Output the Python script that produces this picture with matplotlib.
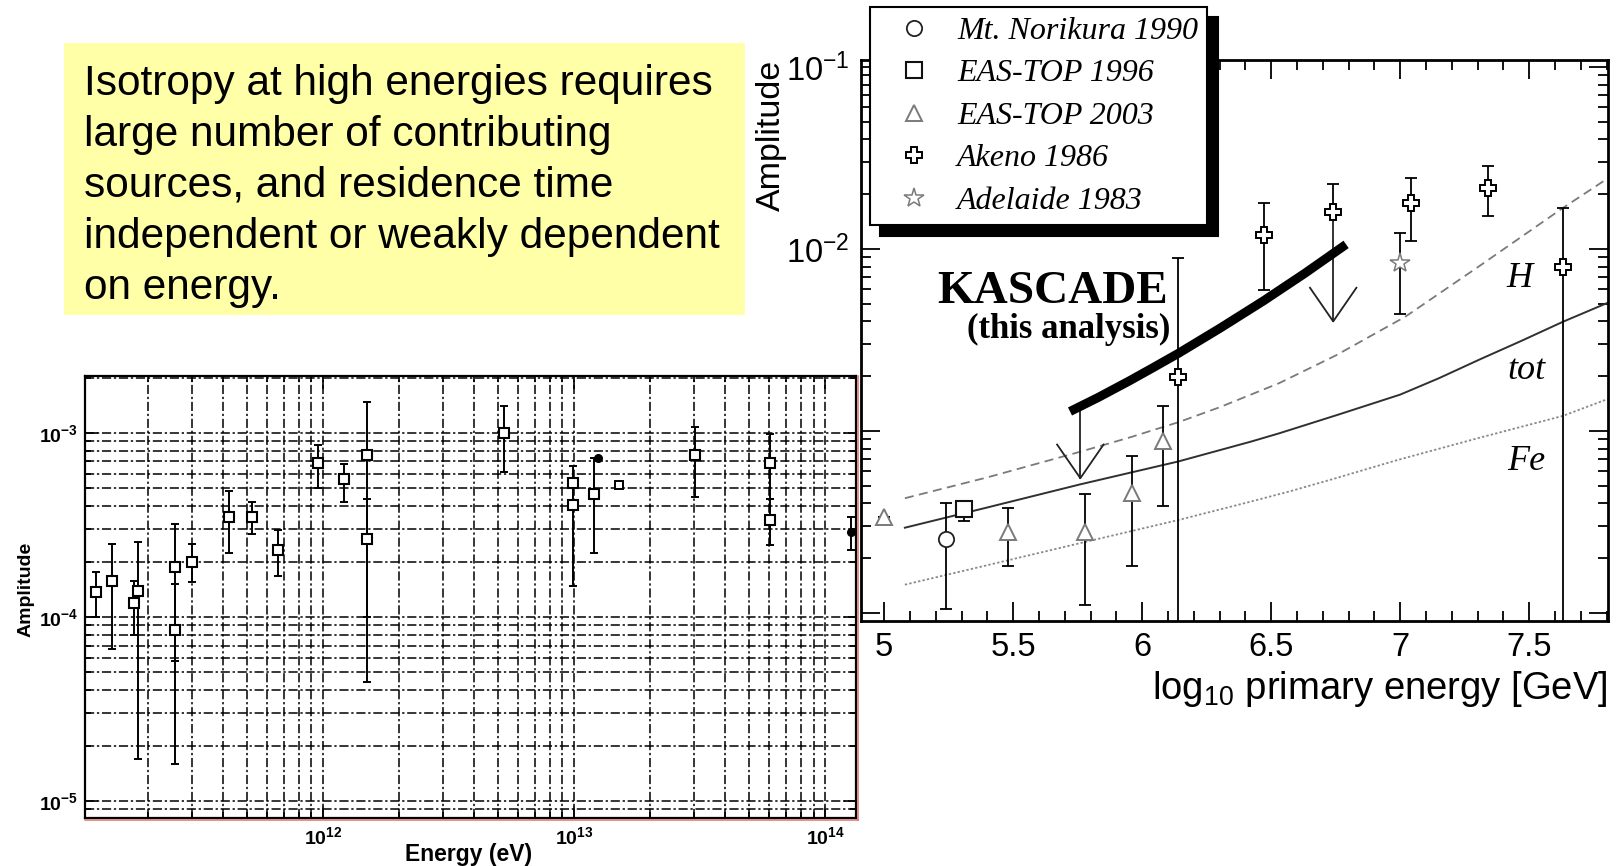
import numpy as np
import matplotlib
matplotlib.use("Agg")
import matplotlib.pyplot as plt
from matplotlib.patches import Rectangle
from matplotlib.font_manager import FontProperties
from matplotlib.ticker import (LogLocator, FixedLocator, MultipleLocator,
                               FuncFormatter, NullFormatter)

plt.rcParams['font.family'] = ['Liberation Sans', 'DejaVu Sans']
plt.rcParams['mathtext.fontset'] = 'custom'
plt.rcParams['mathtext.rm'] = 'Liberation Sans'
plt.rcParams['mathtext.it'] = 'Liberation Sans:italic'
plt.rcParams['mathtext.bf'] = 'Liberation Sans:bold'

# ---------------- left panel: amplitude vs energy (eV) ----------------
left_energy = np.array([1.25e11, 1.45e11, 1.77e11, 1.83e11, 2.57e11, 2.57e11, 3.01e11,
                        4.24e11, 5.23e11, 6.63e11, 9.55e11, 1.21e12, 1.50e12, 1.50e12,
                        5.27e12, 9.89e12, 9.89e12, 1.20e13, 3.03e13, 6.04e13, 6.04e13])
left_amp = np.array([1.37e-4, 1.57e-4, 1.19e-4, 1.38e-4, 1.88e-4, 8.5e-5, 2.0e-4,
                     3.51e-4, 3.51e-4, 2.3e-4, 6.9e-4, 5.62e-4, 7.6e-4, 2.65e-4,
                     1.0e-3, 5.37e-4, 4.05e-4, 4.66e-4, 7.56e-4, 6.84e-4, 3.37e-4])
left_low = np.array([1.0e-4, 6.7e-5, 8.0e-5, 1.7e-5, 5.8e-5, 1.58e-5, 1.55e-4,
                     2.22e-4, 2.82e-4, 1.68e-4, 5.0e-4, 4.2e-4, 1.0e-4, 4.45e-5,
                     6.1e-4, 4.2e-4, 1.48e-4, 2.22e-4, 4.5e-4, 4.38e-4, 2.46e-4])
left_high = np.array([1.75e-4, 2.5e-4, 1.57e-4, 2.55e-4, 3.19e-4, 1.51e-4, 2.5e-4,
                      4.84e-4, 4.2e-4, 2.97e-4, 8.6e-4, 6.8e-4, 1.48e-3, 4.37e-4,
                      1.40e-3, 6.6e-4, 5.0e-4, 7.3e-4, 1.08e-3, 9.9e-4, 4.38e-4])
left_small_energy = np.array([1.51e13])
left_small_amp = np.array([5.2e-4])
left_dot_energy = np.array([1.25e13, 1.27e14])
left_dot_amp = np.array([7.34e-4, 2.9e-4])
left_dot_low = np.array([7.34e-4, 2.31e-4])
left_dot_high = np.array([7.34e-4, 3.5e-4])

# ---------------- right panel: log10 primary energy [GeV] ----------------
norikura_x = np.array([5.24]);  norikura_y = np.array([2.54e-4])
norikura_lo = np.array([1.05e-4]); norikura_hi = np.array([4.04e-4])

eastop96_x = np.array([5.31]);  eastop96_y = np.array([3.72e-4])
eastop96_lo = np.array([3.2e-4]); eastop96_hi = np.array([4.1e-4])

eastop03_x = np.array([5.0, 5.48, 5.78, 5.96, 6.08])
eastop03_y = np.array([3.36e-4, 2.77e-4, 2.77e-4, 4.55e-4, 8.85e-4])
eastop03_lo = np.array([3.36e-4, 1.81e-4, 1.1e-4, 1.81e-4, 3.87e-4])
eastop03_hi = np.array([3.36e-4, 3.76e-4, 4.49e-4, 7.31e-4, 1.38e-3])

akeno_x = np.array([6.14, 6.47, 6.74, 7.04, 7.34, 7.63])
akeno_y = np.array([1.99e-3, 1.2e-2, 1.59e-2, 1.79e-2, 2.17e-2, 8.0e-3])
akeno_lo = np.array([1e-5, 5.95e-3, 1.59e-2, 1.11e-2, 1.51e-2, 1e-5])
akeno_hi = np.array([8.96e-3, 1.78e-2, 2.29e-2, 2.47e-2, 2.87e-2, 1.69e-2])

adelaide_x = np.array([7.0]);  adelaide_y = np.array([8.34e-3])
adelaide_lo = np.array([4.37e-3]); adelaide_hi = np.array([1.22e-2])

kascade_x = np.array([5.72, 5.83, 5.95, 6.04, 6.14, 6.30, 6.47, 6.63, 6.79])
kascade_y = np.array([1.28e-3, 1.53e-3, 1.885e-3, 2.22e-3, 2.67e-3, 3.66e-3, 5.19e-3,
                      7.35e-3, 1.06e-2])
limit_x = np.array([5.76, 6.74])
limit_top = np.array([1.32e-3, 1.42e-2])
limit_tip = np.array([5.5e-4, 4.0e-3])

model_H_x = np.array([5.08, 5.4, 5.76, 5.95, 6.14, 6.3, 6.53, 6.75, 7.02, 7.3, 7.63, 7.805])
model_H_y = np.array([4.27e-4, 5.56e-4, 7.69e-4, 9.2e-4, 1.117e-3, 1.35e-3, 1.83e-3,
                      2.6e-3, 4.25e-3, 7.94e-3, 1.68e-2, 2.45e-2])
model_tot_x = np.array([5.08, 5.4, 5.76, 6.14, 6.42, 6.53, 6.76, 7.0, 7.15, 7.31, 7.47,
                        7.63, 7.805])
model_tot_y = np.array([2.94e-4, 3.8e-4, 5.09e-4, 6.8e-4, 8.73e-4, 9.7e-4, 1.23e-3,
                        1.585e-3, 1.95e-3, 2.48e-3, 3.13e-3, 3.98e-3, 5.07e-3])
model_Fe_x = np.array([5.08, 5.4, 5.76, 6.14, 6.42, 6.57, 6.75, 6.99, 7.31, 7.63, 7.805])
model_Fe_y = np.array([1.43e-4, 1.83e-4, 2.42e-4, 3.24e-4, 4.09e-4, 4.65e-4, 5.5e-4,
                       6.93e-4, 9.2e-4, 1.21e-3, 1.5e-3])

legend_labels = ['Mt. Norikura 1990', 'EAS-TOP 1996', 'EAS-TOP 2003',
                 'Akeno 1986', 'Adelaide 1983']
note_text = ("Isotropy at high energies requires\n"
             "large number of contributing\n"
             "sources, and residence time\n"
             "independent or weakly dependent\n"
             "on energy.")

W, H = 1618, 866
fig = plt.figure(figsize=(W / 100, H / 100), dpi=100)
fig.patch.set_facecolor('white')


def px_rect(x0, y0, x1, y1):
    """pixel box (origin top-left) -> figure-fraction [left, bottom, width, height]"""
    return [x0 / W, 1 - y1 / H, (x1 - x0) / W, (y1 - y0) / H]


# ======================= right panel =======================
ax_r = fig.add_axes(px_rect(861, 60, 1608, 621), zorder=0)
ax_r.set_yscale('log')
ax_r.set_xlim(4.91, 7.805)
ax_r.set_ylim(9.03e-5, 0.1093)

ebar_kw = dict(fmt='none', ecolor='black', elinewidth=1.3, capsize=4, capthick=1.3, zorder=3)


def err(y, lo, hi):
    return [y - lo, hi - y]


ax_r.errorbar(norikura_x, norikura_y, yerr=err(norikura_y, norikura_lo, norikura_hi), **ebar_kw)
ax_r.errorbar(eastop96_x, eastop96_y, yerr=err(eastop96_y, eastop96_lo, eastop96_hi), **ebar_kw)
ax_r.errorbar(eastop03_x, eastop03_y, yerr=err(eastop03_y, eastop03_lo, eastop03_hi), **ebar_kw)
ax_r.errorbar(akeno_x, akeno_y, yerr=err(akeno_y, akeno_lo, akeno_hi), **ebar_kw)
ax_r.errorbar(adelaide_x, adelaide_y, yerr=err(adelaide_y, adelaide_lo, adelaide_hi), **ebar_kw)

ax_r.plot(model_H_x, model_H_y, color='#7a7a7a', lw=1.3, ls=(0, (5, 3)), zorder=2)
ax_r.plot(model_tot_x, model_tot_y, color='#303030', lw=1.4, zorder=2)
ax_r.plot(model_Fe_x, model_Fe_y, color='#8a8a8a', lw=1.3, ls=(0, (1.3, 1.2)), zorder=2)

ax_r.plot(kascade_x, kascade_y, color='black', lw=6.5, solid_capstyle='butt',
          solid_joinstyle='round', zorder=5)
arm_dx, arm_dlog = 0.09, 0.185
for xv, top, tip in zip(limit_x, limit_top, limit_tip):
    ax_r.plot([xv, xv], [top, tip], color='#222222', lw=1.3, zorder=4)
    ax_r.plot([xv - arm_dx, xv, xv + arm_dx],
              [tip * 10 ** arm_dlog, tip, tip * 10 ** arm_dlog],
              color='#222222', lw=1.3, zorder=4)

mk = dict(ls='none', mfc='white', zorder=6)
h_nor, = ax_r.plot(norikura_x, norikura_y, marker='o', ms=11, mec='#222222', mew=1.3, **mk)
h_e96, = ax_r.plot(eastop96_x, eastop96_y, marker='s', ms=11, mec='#111111', mew=1.5, **mk)
h_e03, = ax_r.plot(eastop03_x, eastop03_y, marker='^', ms=12, mec='#7a7a7a', mew=1.4, **mk)
h_ak, = ax_r.plot(akeno_x, akeno_y, marker='P', ms=12, mec='black', mew=1.4, **mk)
h_ad, = ax_r.plot(adelaide_x, adelaide_y, marker='*', ms=15, mec='#7a7a7a', mew=1.1, **mk)

ax_r.xaxis.set_major_locator(FixedLocator([5, 5.5, 6, 6.5, 7, 7.5]))
ax_r.xaxis.set_minor_locator(MultipleLocator(0.1))
ax_r.xaxis.set_major_formatter(FuncFormatter(lambda v, p: f'{v:g}'))
ax_r.yaxis.set_major_locator(LogLocator(base=10, numticks=12))
ax_r.yaxis.set_minor_locator(LogLocator(base=10, subs=np.arange(2, 10), numticks=12))
ax_r.yaxis.set_minor_formatter(NullFormatter())
ax_r.tick_params(which='both', direction='in', top=True, right=True, width=1.3, colors='black')
ax_r.tick_params(which='major', length=14, labelsize=23.5, pad=8)
ax_r.tick_params(which='minor', length=7.5)
for s in ax_r.spines.values():
    s.set_linewidth(2.0)

ax_r.set_ylabel('Amplitude', fontsize=24.5, loc='top')
ax_r.yaxis.set_label_coords(-0.099, 1.0)
ax_r.set_xlabel(r'log$_{\mathdefault{10}}$ primary energy [GeV]', fontsize=27.5,
                loc='right', labelpad=4)

serif_b = dict(family=['Liberation Serif', 'DejaVu Serif'], weight='bold')
serif_i = dict(family=['Liberation Serif', 'DejaVu Serif'], style='italic')
ax_r.text(0.411, 0.5663, 'KASCADE', transform=ax_r.transAxes, ha='right', va='baseline',
          fontsize=34, **serif_b)
ax_r.text(0.4146, 0.5036, '(this analysis)', transform=ax_r.transAxes, ha='right', va='baseline',
          fontsize=25, **serif_b)
ax_r.text(0.882, 0.5948, 'H', transform=ax_r.transAxes, ha='center', va='baseline', fontsize=26, **serif_i)
ax_r.text(0.891, 0.4308, 'tot', transform=ax_r.transAxes, ha='center', va='baseline', fontsize=26, **serif_i)
ax_r.text(0.891, 0.2692, 'Fe', transform=ax_r.transAxes, ha='center', va='baseline', fontsize=26, **serif_i)

leg = ax_r.legend([h_nor, h_e96, h_e03, h_ak, h_ad], legend_labels,
                  loc='upper left', bbox_to_anchor=(870 / W, 1 - 7 / H),
                  bbox_transform=fig.transFigure, borderaxespad=0,
                  prop=FontProperties(family=['Liberation Serif'], style='italic', size=23),
                  frameon=True, fancybox=False, edgecolor='black', framealpha=1,
                  borderpad=0.3, handlelength=2.14, handletextpad=0.28,
                  labelspacing=0.41, numpoints=1,
                  shadow={'ox': 7.5, 'oy': -7.5, 'color': 'black', 'alpha': 1})
leg.get_frame().set_linewidth(1.5)

# white backing for the left panel
fig.add_artist(Rectangle((0, 0), 858 / W, 1 - 330 / H, transform=fig.transFigure,
                         facecolor='white', edgecolor='none', zorder=1))

# ======================= left panel =======================
ax_l = fig.add_axes(px_rect(85, 376, 856, 818), zorder=2)
ax_l.set_xscale('log')
ax_l.set_yscale('log')
ax_l.set_xlim(1.127e11, 1.329e14)
ax_l.set_ylim(8.09e-6, 2.04e-3)

grid_ls = (0, (6, 1.8, 1.5, 1.8))
ax_l.grid(which='both', color='black', lw=1.1, ls=grid_ls)
ax_l.set_axisbelow(True)

ax_l.errorbar(left_energy, left_amp, yerr=err(left_amp, left_low, left_high),
              fmt='none', ecolor='black', elinewidth=1.4, capsize=3, capthick=1.4, zorder=3)
ax_l.errorbar(left_dot_energy, left_dot_amp, yerr=err(left_dot_amp, left_dot_low, left_dot_high),
              fmt='none', ecolor='black', elinewidth=1.4, capsize=3, capthick=1.4, zorder=3)
ax_l.plot(left_energy, left_amp, ls='none', marker='s', ms=7.5, mfc='white', mec='black',
          mew=1.5, zorder=4)
ax_l.plot(left_small_energy, left_small_amp, ls='none', marker='s', ms=5.5, mfc='white',
          mec='black', mew=1.4, zorder=4)
ax_l.plot(left_dot_energy, left_dot_amp, ls='none', marker='o', ms=5.5, color='black', zorder=4)

bold_pow = FuncFormatter(lambda v, p: r'$\mathbf{10^{%d}}$' % int(round(np.log10(v))))
ax_l.xaxis.set_major_locator(LogLocator(base=10, numticks=10))
ax_l.xaxis.set_minor_locator(LogLocator(base=10, subs=np.arange(2, 10), numticks=10))
ax_l.yaxis.set_major_locator(LogLocator(base=10, numticks=10))
ax_l.yaxis.set_minor_locator(LogLocator(base=10, subs=np.arange(2, 10), numticks=10))
ax_l.xaxis.set_major_formatter(bold_pow)
ax_l.yaxis.set_major_formatter(bold_pow)
ax_l.xaxis.set_minor_formatter(NullFormatter())
ax_l.yaxis.set_minor_formatter(NullFormatter())
ax_l.tick_params(which='both', direction='in', top=True, right=True, width=1.2)
ax_l.tick_params(which='major', length=9, labelsize=14)
ax_l.tick_params(axis='x', which='major', pad=6)
ax_l.tick_params(axis='y', which='major', pad=5)
ax_l.tick_params(which='minor', length=4)
for s in ax_l.spines.values():
    s.set_linewidth(1.6)

ax_l.set_xlabel('Energy (eV)', fontsize=16.5, fontweight='bold')
ax_l.xaxis.set_label_coords(0.498, -0.057)
ax_l.set_ylabel('Amplitude', fontsize=14, fontweight='bold')
ax_l.yaxis.set_label_coords(-0.066, 0.518)

# thin red border along the lower and right edges of the left panel
ax_l.plot([1.003, 1.003], [-0.004, 1.0], transform=ax_l.transAxes, clip_on=False,
          color='#e07070', lw=1.1, zorder=5)
ax_l.plot([0.0, 1.003], [-0.004, -0.004], transform=ax_l.transAxes, clip_on=False,
          color='#e07070', lw=1.1, zorder=5)

# ======================= note box =======================
fig.add_artist(Rectangle((64 / W, 1 - 315 / H), 681 / W, 272 / H, transform=fig.transFigure,
                         facecolor='#FFFFA8', edgecolor='none', zorder=3))
fig.text(83.6 / W, 1 - 64.3 / H, note_text, ha='left', va='top', fontsize=30.5,
         linespacing=1.35, color='black', zorder=4)

fig.savefig('out.png', dpi=100)
